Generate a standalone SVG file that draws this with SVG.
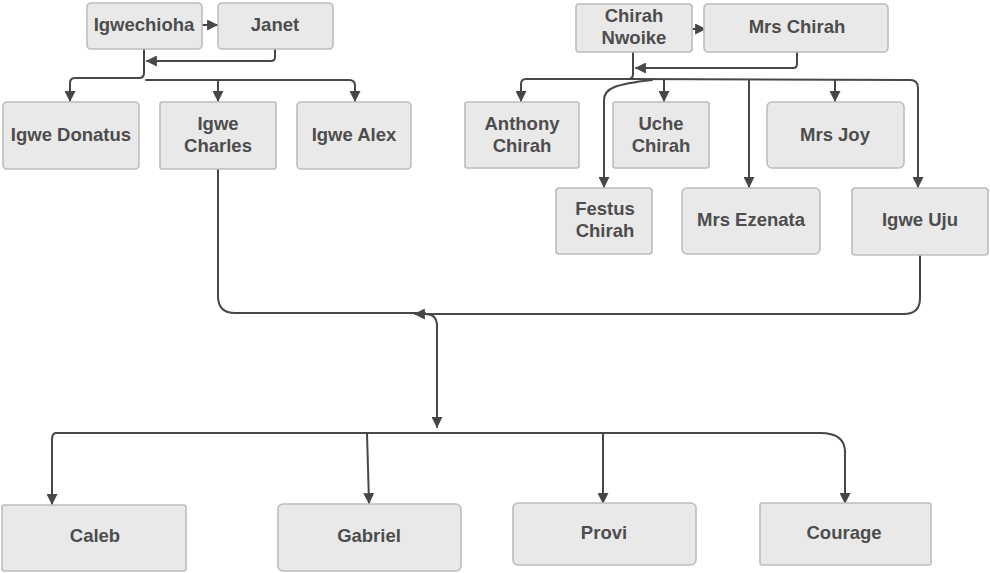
<svg xmlns="http://www.w3.org/2000/svg" width="990" height="573" viewBox="0 0 990 573">
<style>
.box{fill:#e9e9e9;stroke:#bdbdbd;stroke-width:1.6}
.t{font-family:"Liberation Sans",Arial,sans-serif;font-weight:bold;font-size:18.5px;fill:#4d4d4d;text-anchor:middle}
.c{fill:none;stroke:#474747;stroke-width:2;stroke-linecap:round;stroke-linejoin:round}
.a{marker-end:url(#ah)}
</style>
<defs>
<marker id="ah" viewBox="0 0 10 10" refX="9" refY="5" markerWidth="12" markerHeight="11" markerUnits="userSpaceOnUse" orient="auto">
<path d="M0,0 L10,5 L0,10 z" fill="#474747"/>
</marker>
</defs>
<rect width="990" height="573" fill="#ffffff"/>
<g id="connectors">
<path class="c a" d="M203 25 L217 25"/>
<path class="c a" d="M275 49 L275 57 Q275 61 271 61 L147 61"/>
<path class="c a" d="M144 49 L144 73 Q144 78 139 78 L75 78 Q70 78 70 83 L70 101"/>
<path class="c a" d="M146 80 L349 80 Q355 80 355 86 L355 101"/>
<path class="c a" d="M218 80 L218 101"/>
<path class="c a" d="M693 29 L705 29"/>
<path class="c a" d="M797 52 L797 64 Q797 68 793 68 L636 68"/>
<path class="c a" d="M633 52 L633 74 Q633 79 628 79 L526 79 Q521 79 521 84 L521 101"/>
<path class="c a" d="M628 79 L910 80 Q918 80 918 88 L918 187"/>
<path class="c a" d="M652 80 C616 84 604 88 604 100 L604 187"/>
<path class="c a" d="M664 80 L664 101"/>
<path class="c a" d="M749 80 L749 187"/>
<path class="c a" d="M835 80 L835 101"/>
<path class="c" d="M218 169 L218 296 Q218 313 235 313 L425 313"/>
<path class="c a" d="M920 255 L920 298 Q920 314 904 314 L415 314"/>
<path class="c a" d="M425 314 Q437 314 437 326 L437 427"/>
<path class="c" d="M56 433 L820 433 Q845 433 845 452"/>
<path class="c a" d="M845 450 L845 503"/>
<path class="c a" d="M56 433 Q52 433 52 440 L52 504"/>
<path class="c a" d="M367 433 L369 503"/>
<path class="c a" d="M603 433 L603 503"/>
</g>
<g id="n-igwechioha"><rect class="box" x="87" y="3" width="115" height="46" rx="4"/><text class="t" x="144" y="31">Igwechioha</text></g>
<g id="n-janet"><rect class="box" x="218" y="3" width="115" height="46" rx="4"/><text class="t" x="275" y="31">Janet</text></g>
<g id="n-igwe-donatus"><rect class="box" x="3" y="102" width="136" height="67" rx="4"/><text class="t" x="71" y="141">Igwe Donatus</text></g>
<g id="n-igwe-charles"><rect class="box" x="160" y="102" width="116" height="67" rx="2"/><text class="t" x="218" y="130">Igwe</text><text class="t" x="218" y="152">Charles</text></g>
<g id="n-igwe-alex"><rect class="box" x="297" y="102" width="114" height="67" rx="4"/><text class="t" x="354" y="141">Igwe Alex</text></g>
<g id="n-chirah-nwoike"><rect class="box" x="576" y="4" width="116" height="48" rx="3"/><text class="t" x="634" y="22">Chirah</text><text class="t" x="634" y="44">Nwoike</text></g>
<g id="n-mrs-chirah"><rect class="box" x="704" y="4" width="184" height="48" rx="4"/><text class="t" x="797" y="33">Mrs Chirah</text></g>
<g id="n-anthony-chirah"><rect class="box" x="465" y="102" width="114" height="66" rx="2"/><text class="t" x="522" y="130">Anthony</text><text class="t" x="522" y="152">Chirah</text></g>
<g id="n-uche-chirah"><rect class="box" x="613" y="102" width="96" height="66" rx="2"/><text class="t" x="661" y="130">Uche</text><text class="t" x="661" y="152">Chirah</text></g>
<g id="n-mrs-joy"><rect class="box" x="767" y="102" width="137" height="66" rx="5"/><text class="t" x="835" y="141">Mrs Joy</text></g>
<g id="n-festus-chirah"><rect class="box" x="556" y="188" width="96" height="66" rx="3"/><text class="t" x="605" y="215">Festus</text><text class="t" x="605" y="237">Chirah</text></g>
<g id="n-mrs-ezenata"><rect class="box" x="682" y="188" width="138" height="66" rx="5"/><text class="t" x="751" y="226">Mrs Ezenata</text></g>
<g id="n-igwe-uju"><rect class="box" x="852" y="188" width="136" height="67" rx="3"/><text class="t" x="920" y="226">Igwe Uju</text></g>
<g id="n-caleb"><rect class="box" x="2" y="505" width="184" height="66" rx="2"/><text class="t" x="95" y="542">Caleb</text></g>
<g id="n-gabriel"><rect class="box" x="278" y="504" width="183" height="67" rx="5"/><text class="t" x="369" y="542">Gabriel</text></g>
<g id="n-provi"><rect class="box" x="513" y="503" width="183" height="62" rx="5"/><text class="t" x="604" y="539">Provi</text></g>
<g id="n-courage"><rect class="box" x="760" y="503" width="171" height="62" rx="2"/><text class="t" x="844" y="539">Courage</text></g>
</svg>
